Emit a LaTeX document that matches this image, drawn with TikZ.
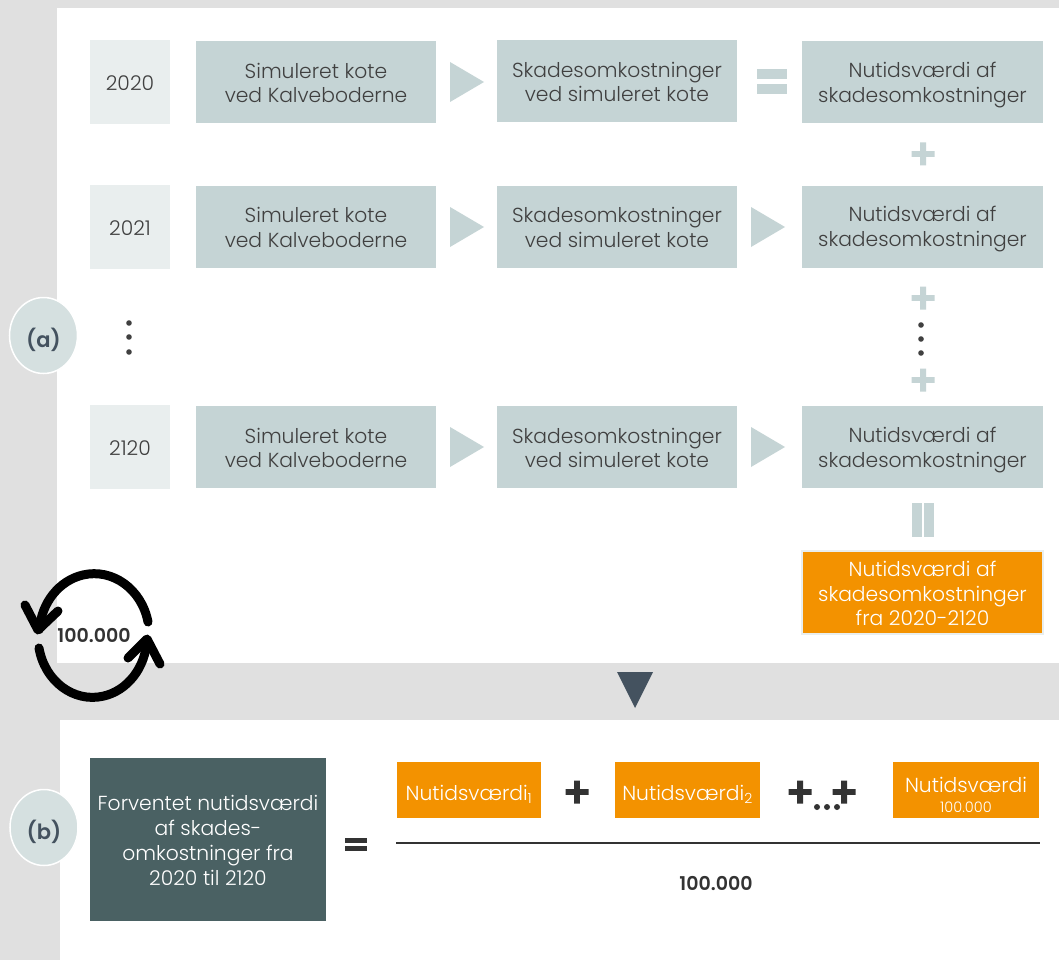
\documentclass[tikz,border=0pt]{standalone}
\usepackage{fontspec}
\usetikzlibrary{shapes.geometric}
\setmainfont{Poppins}[UprightFont=* Light,BoldFont=* SemiBold]
\setlength{\normallineskiplimit}{-50pt}
\setlength{\lineskiplimit}{-50pt}
\definecolor{bggray}{HTML}{E0E0E0}
\definecolor{boxc}{HTML}{C5D4D5}
\definecolor{yearc}{HTML}{E9EEEE}
\definecolor{circc}{HTML}{D5E0E0}
\definecolor{tri}{HTML}{C5D4D5}
\definecolor{orangec}{HTML}{F39200}
\definecolor{tealc}{HTML}{4A6163}
\definecolor{navy}{HTML}{44525F}
\definecolor{txt}{HTML}{404040}
\definecolor{darkc}{HTML}{333333}
\newcommand{\lnst}{\rule[-4pt]{0pt}{25pt}}
\tikzset{
  base/.style={anchor=center,inner sep=0pt,outer sep=0pt,align=center,text=txt,font=\fontsize{20.3}{24.7}\selectfont},
  sim/.style={base,fill=boxc,minimum width=240pt,minimum height=82pt},
  res/.style={base,fill=boxc,minimum width=241pt,minimum height=82pt},
  yearbox/.style={base,fill=yearc,minimum width=80pt,minimum height=84pt},
  orbox/.style={base,fill=orangec,text=white,minimum height=56pt},
  badge/.style={ellipse,draw=white,line width=1.5pt,fill=circc,minimum width=68pt,minimum height=76pt,inner sep=0pt,text=navy,font=\fontsize{21}{24}\selectfont\bfseries},
  bold num/.style={anchor=center,inner sep=0pt,text=darkc,font=\fontsize{19}{22}\selectfont\bfseries},
  cyc/.style={black,line width=9pt,line cap=round,line join=round}
}
\newcommand{\plusmark}[4]{\fill[#4] (#1-#3,#2-#3*0.26) -- (#1-#3*0.26,#2-#3*0.26) -- (#1-#3*0.26,#2-#3) -- (#1+#3*0.26,#2-#3) -- (#1+#3*0.26,#2-#3*0.26) -- (#1+#3,#2-#3*0.26) -- (#1+#3,#2+#3*0.26) -- (#1+#3*0.26,#2+#3*0.26) -- (#1+#3*0.26,#2+#3) -- (#1-#3*0.26,#2+#3) -- (#1-#3*0.26,#2+#3*0.26) -- (#1-#3,#2+#3*0.26) -- cycle;}
\newcommand{\righttri}[2]{\fill[tri] (#1,#2-20) -- (#1+34,#2) -- (#1,#2+20) -- cycle;}
\begin{document}
\begin{tikzpicture}[x=1pt,y=-1pt]
\useasboundingbox (0,0) rectangle (1059,960);
\fill[bggray] (0,0) rectangle (1059,960);
\fill[white] (57,8) rectangle (1059,663);
\fill[white] (60,720) rectangle (1059,960);

% rows
\node[yearbox] (y1) at (130,82) {\lnst 2020};
\node[sim] (a1) at (316,82) {\lnst Simuleret kote\\\lnst ved Kalveboderne};
\node[sim] (b1) at (617,81) {\lnst Skadesomkostninger\\\lnst ved simuleret kote};
\node[res] (c1) at (922.5,82.5) {\lnst Nutidsværdi af\\\lnst skadesomkostninger};
\node[yearbox] (y2) at (130,227) {\lnst 2021};
\node[sim] (a2) at (316,226.5) {\lnst Simuleret kote\\\lnst ved Kalveboderne};
\node[sim] (b2) at (617,226.5) {\lnst Skadesomkostninger\\\lnst ved simuleret kote};
\node[res] (c2) at (922.5,226.5) {\lnst Nutidsværdi af\\\lnst skadesomkostninger};
\node[yearbox] (y3) at (130,447) {\lnst 2120};
\node[sim] (a3) at (316,447) {\lnst Simuleret kote\\\lnst ved Kalveboderne};
\node[sim] (b3) at (617,447) {\lnst Skadesomkostninger\\\lnst ved simuleret kote};
\node[res] (c3) at (922.5,447) {\lnst Nutidsværdi af\\\lnst skadesomkostninger};

% triangles and operators
\righttri{450}{82}
\righttri{450}{227}
\righttri{751}{227}
\righttri{450}{447}
\righttri{751}{447}
\fill[tri] (757,69) rectangle (787,79);
\fill[tri] (757,84) rectangle (787,94);
\plusmark{923}{154}{11.5}{tri}
\plusmark{923}{298}{11.5}{tri}
\plusmark{923}{380}{11.5}{tri}
\fill[tri] (912,503) rectangle (922,537);
\fill[tri] (924,503) rectangle (934,537);
\foreach \yy in {325,339,353} \fill[txt] (921,\yy) circle (2.8);
\foreach \yy in {323,337,352} \fill[txt] (129,\yy) circle (2.8);

\node[base,fill=orangec,text=white,draw=yearc,line width=1.5pt,minimum width=241pt,minimum height=83pt] (total) at (922.5,592.5) {\lnst Nutidsværdi af\\\lnst skadesomkostninger\\\lnst fra 2020-2120};
\fill[navy] (617,672) -- (653,672) -- (635,708) -- cycle;

% badges
\node[badge] (la) at (43.5,335.5) {\rule[-5pt]{0pt}{33pt}(a)};
\node[badge] (lb) at (44,827.5) {\rule[-5pt]{0pt}{33pt}(b)};

% cycle
\node[bold num] (cnum) at (94,635.5) {100.000};
\draw[cyc] (148,622) arc[start angle=-12,end angle=-175,x radius=55,y radius=61];
\draw[cyc] (25,605) -- (38,630) -- (58,611);
\draw[cyc] (39,648) arc[start angle=169,end angle=3,x radius=54.5,y radius=61];
\draw[cyc] (128,658) -- (147,639) -- (160,664);

% part b
\node[base,fill=tealc,text=white,minimum width=236pt,minimum height=163pt] (dark) at (208,839.5) {\lnst Forventet nutidsværdi\\\lnst af skades-\\\lnst omkostninger fra\\\lnst 2020 til 2120};
\fill[darkc] (345,838) rectangle (367,843);
\fill[darkc] (345,846) rectangle (367,851);
\node[orbox,minimum width=144pt] (n1) at (469,790) {\rule[-4pt]{0pt}{29pt}Nutidsværdi\textsubscript{\fontsize{14}{14}\selectfont 1}};
\node[orbox,minimum width=145pt] (n2) at (687.5,790) {\rule[-4pt]{0pt}{29pt}Nutidsværdi\textsubscript{\fontsize{14}{14}\selectfont 2}};
\node[orbox,minimum width=146pt] (n3) at (966,790) {\rule[-4pt]{0pt}{33pt}Nutidsværdi\\[-5pt]\rule[-4pt]{0pt}{20pt}{\fontsize{14.5}{15}\selectfont 100.000}};
\plusmark{577}{792}{11.5}{darkc}
\plusmark{800}{792}{11.5}{darkc}
\plusmark{844}{792}{11.5}{darkc}
\foreach \xx in {817,827,837} \fill[darkc] (\xx,807) circle (3);
\draw[darkc,line width=2pt] (396,843) -- (1040,843);
\node[bold num] (den) at (716,883) {100.000};
\end{tikzpicture}
\end{document}
